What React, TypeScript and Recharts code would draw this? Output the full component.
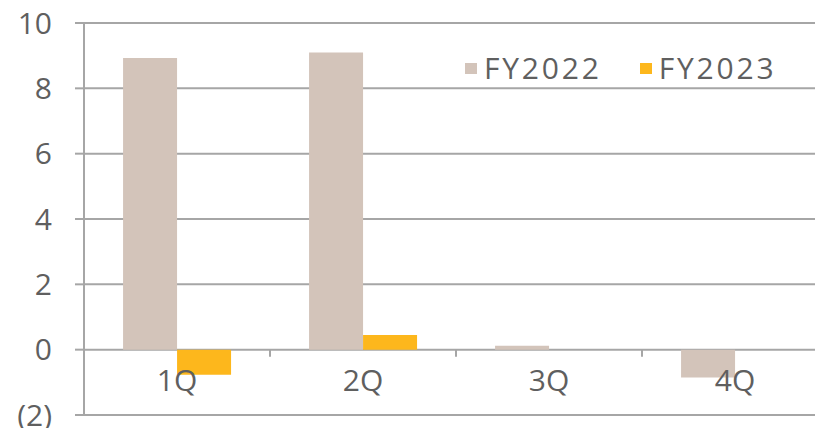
import { Bar, BarChart, CartesianGrid, XAxis, YAxis } from "recharts"

const QUARTERS = ["1Q", "2Q", "3Q", "4Q"]
const FY2022 = [8.93, 9.1, 0.12, -0.85]
const FY2023 = [-0.77, 0.45, 0, 0]
const Y_TICKS = [-2, 0, 2, 4, 6, 8, 10]

const SERIES = [
  { key: "FY2022", color: "#d3c4ba" },
  { key: "FY2023", color: "#fdb71c" },
]

// plot runs past the right edge of the picture, like the source crop
const W = 828
const H = 428
const Y_AXIS_W = 84
const X_AXIS_H = 13
const MARGIN = { top: 23, right: 0, bottom: 0, left: 0 }
const PLOT_H = H - MARGIN.top - MARGIN.bottom - X_AXIS_H
const BAND = (W - Y_AXIS_W - MARGIN.left - MARGIN.right) / QUARTERS.length
const Y_MIN = -2
const Y_MAX = 10

const FONT = '"Open Sans", sans-serif'
const FONT_SIZE = 30
const WEIGHT = 400
const TEXT = "#5f5f5f"
const GRID = "#a6a6a6"

const data = QUARTERS.map((q, i) => ({ q, FY2022: FY2022[i], FY2023: FY2023[i] }))

function QuarterTick({ x, y, payload }: { x: number; y: number; payload: { value: string } }) {
  // labels and separator ticks hang off the zero line, not the plot bottom
  const zeroY = y - (PLOT_H * (0 - Y_MIN)) / (Y_MAX - Y_MIN)
  return (
    <g>
      <line x1={x + BAND / 2} x2={x + BAND / 2} y1={zeroY} y2={zeroY + 7} stroke={GRID} strokeWidth={2} />
      <text
        x={x}
        y={zeroY + 30}
        textAnchor="middle"
        dominantBaseline="central"
        fill={TEXT}
        fontSize={FONT_SIZE}
        fontFamily={FONT}
        fontWeight={WEIGHT}
      >
        {payload.value}
      </text>
    </g>
  )
}

export default function App() {
  return (
    <div style={{ position: "absolute", left: 0, top: 0, width: 815, height: 428, overflow: "hidden", background: "#fff" }}>
      <BarChart width={W} height={H} data={data} margin={MARGIN} barGap={0} barCategoryGap="21%">
        <CartesianGrid vertical={false} stroke={GRID} strokeWidth={2} />
        <XAxis
          dataKey="q"
          axisLine={false}
          tickLine={false}
          tickSize={0}
          tickMargin={0}
          height={X_AXIS_H}
          interval={0}
          tick={(props: any) => <QuarterTick {...props} />}
        />
        <YAxis
          domain={[Y_MIN, Y_MAX]}
          ticks={Y_TICKS}
          interval={0}
          width={Y_AXIS_W}
          axisLine={{ stroke: GRID, strokeWidth: 2 }}
          tickLine={{ stroke: GRID, strokeWidth: 2 }}
          tickSize={9}
          tickMargin={23}
          tick={{ fill: TEXT, fontSize: FONT_SIZE, fontFamily: FONT, fontWeight: WEIGHT }}
          tickFormatter={(v: number) => (v < 0 ? `(${-v})` : `${v}`)}
        />
        {SERIES.map((s) => (
          <Bar key={s.key} dataKey={s.key} fill={s.color} isAnimationActive={false} />
        ))}
      </BarChart>

      <div
        style={{
          position: "absolute",
          left: 465,
          top: 49,
          display: "flex",
          fontFamily: FONT,
          fontSize: FONT_SIZE,
          fontWeight: WEIGHT,
          color: TEXT,
          lineHeight: "38px",
        }}
      >
        {SERIES.map((s, i) => (
          <span key={s.key} style={{ display: "flex", alignItems: "center", marginLeft: i ? 38 : 0 }}>
            <span style={{ display: "inline-block", width: 12, height: 11, background: s.color, marginRight: 7 }} />
            <span style={{ letterSpacing: 2.8 }}>{s.key}</span>
          </span>
        ))}
      </div>
    </div>
  )
}
